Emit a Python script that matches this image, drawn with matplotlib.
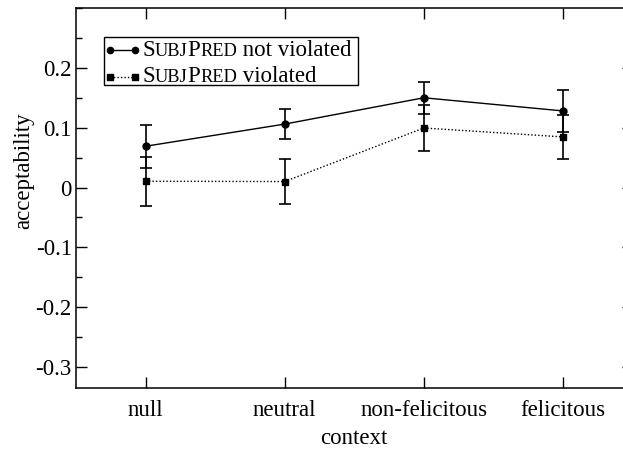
import matplotlib
matplotlib.use("Agg")
import matplotlib.pyplot as plt
from matplotlib.offsetbox import AnchoredOffsetbox, HPacker, TextArea, DrawingArea
from matplotlib.lines import Line2D
from matplotlib.patches import Rectangle
from matplotlib.ticker import MultipleLocator

categories = ["null", "neutral", "non-felicitous", "felicitous"]
not_violated = [0.069, 0.106, 0.150, 0.128]
not_violated_err = [0.036, 0.025, 0.027, 0.035]
violated = [0.0105, 0.010, 0.0995, 0.0846]
violated_err = [0.041, 0.038, 0.038, 0.037]
yticks = [-0.3, -0.2, -0.1, 0, 0.1, 0.2]
ytick_labels = ["-0.3", "-0.2", "-0.1", "0", "0.1", "0.2"]

FS = 16.5
FAM = ["Liberation Serif", "DejaVu Serif"]
plt.rcParams["font.family"] = FAM
plt.rcParams["font.size"] = FS

W, H = 623, 453
fig = plt.figure(figsize=(W / 100, H / 100), dpi=100)
left, right, top, bottom = 76, 632.5, 8, 388
ax = fig.add_axes([left / W, 1 - bottom / H, (right - left) / W, (bottom - top) / H])

x = list(range(len(categories)))
ax.errorbar(x, not_violated, yerr=not_violated_err, color="black", lw=1.0,
            marker="o", ms=5, elinewidth=1.2, capsize=4, capthick=1.2, zorder=3)
ax.errorbar(x, violated, yerr=violated_err, color="black", lw=1.0, ls=(0, (1, 1.5)),
            marker="s", ms=4.5, elinewidth=1.2, capsize=4, capthick=1.2, zorder=3)

ax.set_xlim(-0.5, 3.5)
ax.set_ylim(-0.335, 0.3)
ax.set_xticks(x)
ax.set_xticklabels(categories)
ax.set_yticks(yticks)
ax.set_yticklabels(ytick_labels)
ax.yaxis.set_minor_locator(MultipleLocator(0.05))
ax.tick_params(which="both", direction="in", top=True, right=True, width=1)
ax.tick_params(which="major", length=8)
ax.tick_params(which="minor", length=4.3)
ax.tick_params(axis="x", pad=9)
ax.tick_params(axis="y", pad=3)
for s in ax.spines.values():
    s.set_linewidth(1.1)
ax.set_xlabel("context", labelpad=5)
ax.set_ylabel("acceptability")
ax.yaxis.set_label_coords((34 - left) / (right - left), (bottom - 171) / (bottom - top))

# Legend with small caps
def sc_label(rest):
    big = dict(fontsize=FS, family=FAM)
    small = dict(fontsize=FS * 0.8, family=FAM)
    parts = [TextArea("S", textprops=big), TextArea("UBJ", textprops=small),
             TextArea("P", textprops=big), TextArea("RED", textprops=small),
             TextArea(rest, textprops=big)]
    return HPacker(children=parts, align="baseline", pad=0, sep=0)

def handle(marker, ls, ms):
    da = DrawingArea(23, 10, 0, 0)
    da.add_artist(Line2D([3, 21], [5, 5], color="black", lw=1.0, ls=ls,
                         marker=marker, ms=ms))
    return da

fig.add_artist(Rectangle((104 / W, 1 - 85 / H), (358 - 104) / W, (85 - 37) / H,
                         transform=fig.transFigure, facecolor="white",
                         edgecolor="black", lw=1.0, zorder=5))
for marker, ls, ms, txt, yc in [("o", "-", 4.5, " not violated", 50),
                                ("s", (0, (1, 1.5)), 4, " violated", 76.7)]:
    row = HPacker(children=[handle(marker, ls, ms), sc_label(txt)],
                  align="center", pad=0, sep=3)
    ab = AnchoredOffsetbox(loc="center left", child=row, pad=0, borderpad=0, frameon=False,
                           bbox_to_anchor=(106 / W, 1 - yc / H), bbox_transform=fig.transFigure)
    ab.set_zorder(6)
    fig.add_artist(ab)

fig.savefig("out.png", dpi=100)
